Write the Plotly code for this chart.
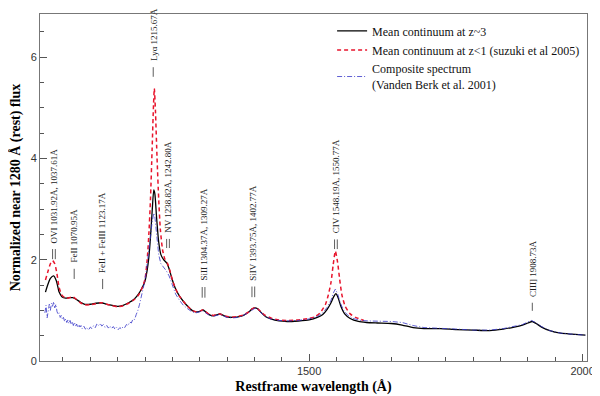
import plotly.graph_objects as go

# mean continuum at z~3 (black)
wl_z3 = [1018, 1022, 1027, 1033, 1038, 1043, 1048, 1055, 1062, 1068, 1074, 1082, 1090, 1100, 1110, 1120,
         1130, 1140, 1150, 1160, 1170, 1180, 1188, 1195, 1200, 1204, 1207, 1210, 1213, 1216, 1218, 1221,
         1225, 1229, 1234, 1240, 1244, 1250, 1256, 1263, 1270, 1278, 1286, 1293, 1300, 1306, 1312, 1318,
         1325, 1331, 1337, 1343, 1350, 1360, 1370, 1380, 1390, 1396, 1401, 1406, 1412, 1420, 1430, 1445,
         1460, 1480, 1500, 1515, 1525, 1533, 1540, 1545, 1549, 1553, 1558, 1565, 1575, 1590, 1605, 1625,
         1650, 1670, 1690, 1710, 1740, 1770, 1800, 1830, 1855, 1875, 1890, 1900, 1908, 1915, 1925, 1940,
         1960, 1980, 2005]
flux_z3 = [1.36, 1.50, 1.63, 1.68, 1.58, 1.36, 1.27, 1.24, 1.25, 1.25, 1.22, 1.16, 1.12, 1.12, 1.14, 1.15,
           1.12, 1.10, 1.08, 1.10, 1.15, 1.22, 1.32, 1.45, 1.58, 1.80, 2.05, 2.45, 2.95, 3.38, 3.30, 2.85,
           2.35, 2.10, 2.00, 1.93, 1.82, 1.60, 1.42, 1.28, 1.18, 1.08, 1.00, 0.97, 0.98, 1.01, 0.96, 0.91,
           0.89, 0.91, 0.93, 0.90, 0.87, 0.86, 0.87, 0.90, 0.97, 1.03, 1.05, 1.03, 0.96, 0.88, 0.83, 0.79,
           0.78, 0.79, 0.81, 0.86, 0.92, 1.02, 1.15, 1.27, 1.33, 1.25, 1.08, 0.93, 0.84, 0.78, 0.76, 0.75,
           0.74, 0.71, 0.66, 0.64, 0.64, 0.62, 0.61, 0.60, 0.63, 0.67, 0.71, 0.75, 0.78, 0.74, 0.67, 0.60,
           0.55, 0.53, 0.51]

# mean continuum at z<1, Suzuki et al 2005 (red dashed)
wl_z1 = [1018, 1022, 1027, 1031, 1035, 1039, 1043, 1048, 1055, 1062, 1068, 1074, 1082, 1090, 1100, 1110,
         1120, 1130, 1140, 1150, 1160, 1170, 1180, 1188, 1195, 1200, 1204, 1207, 1210, 1213, 1215.5, 1217,
         1219, 1222, 1225, 1228, 1232, 1236, 1241, 1245, 1250, 1256, 1263, 1270, 1278, 1286, 1293, 1300,
         1306, 1312, 1318, 1325, 1331, 1337, 1343, 1350, 1360, 1370, 1380, 1390, 1396, 1401, 1406, 1412,
         1420, 1430, 1445, 1460, 1480, 1500, 1510, 1520, 1530, 1535, 1540, 1544, 1548, 1552, 1556, 1560,
         1566, 1575, 1585, 1595, 1600]
flux_z1 = [1.60, 1.75, 1.92, 1.98, 1.92, 1.72, 1.45, 1.30, 1.24, 1.25, 1.27, 1.22, 1.15, 1.11, 1.11, 1.13,
           1.15, 1.12, 1.09, 1.07, 1.09, 1.14, 1.21, 1.30, 1.45, 1.62, 2.00, 2.50, 3.20, 4.20, 5.05, 5.38,
           4.95, 4.00, 3.20, 2.60, 2.20, 2.02, 1.93, 1.80, 1.60, 1.42, 1.28, 1.18, 1.08, 1.00, 0.97, 0.98,
           1.01, 0.96, 0.92, 0.90, 0.92, 0.93, 0.90, 0.88, 0.87, 0.88, 0.91, 0.97, 1.03, 1.05, 1.03, 0.97,
           0.90, 0.85, 0.81, 0.80, 0.81, 0.84, 0.87, 0.95, 1.12, 1.30, 1.55, 1.90, 2.17, 1.95, 1.60, 1.30,
           1.08, 0.93, 0.86, 0.82, 0.80]

# composite spectrum, Vanden Berk et al. 2001 (blue dash-dot)
wl_vb = [1017, 1019, 1021, 1023, 1025, 1027, 1029, 1031, 1033, 1035, 1037, 1039, 1041, 1043, 1045, 1047,
         1049, 1051, 1053, 1055, 1057, 1059, 1061, 1063, 1065, 1067, 1069, 1071, 1073, 1075, 1077, 1079,
         1081, 1083, 1085, 1088, 1091, 1094, 1097, 1100, 1103, 1106, 1109, 1112, 1115, 1118, 1121, 1124,
         1127, 1130, 1133, 1136, 1139, 1142, 1145, 1148, 1151, 1154, 1157, 1160, 1163, 1166, 1169, 1172,
         1175, 1178, 1181, 1184, 1187, 1190, 1194, 1198, 1202, 1206, 1210, 1213, 1216, 1218, 1221, 1225,
         1229, 1234, 1239, 1244, 1250, 1256, 1263, 1270, 1278, 1286, 1293, 1300, 1306, 1312, 1318, 1325,
         1331, 1337, 1343, 1350, 1360, 1370, 1380, 1390, 1396, 1401, 1406, 1412, 1420, 1430, 1445, 1460,
         1480, 1500, 1515, 1525, 1533, 1540, 1545, 1548, 1552, 1557, 1563, 1570, 1580, 1595, 1610, 1630,
         1650, 1670, 1690, 1710, 1740, 1770, 1800, 1830, 1855, 1875, 1890, 1900, 1906, 1912, 1925, 1940,
         1960, 1980, 2005]
flux_vb = [0.95, 1.10, 0.85, 1.05, 1.12, 1.00, 1.14, 1.08, 1.17, 1.05, 1.12, 0.98, 0.92, 0.95, 0.86, 0.90,
           0.82, 0.86, 0.78, 0.83, 0.76, 0.81, 0.74, 0.80, 0.72, 0.78, 0.70, 0.76, 0.69, 0.73, 0.66, 0.72,
           0.67, 0.70, 0.64, 0.69, 0.63, 0.66, 0.61, 0.67, 0.64, 0.70, 0.66, 0.73, 0.70, 0.74, 0.69, 0.72,
           0.66, 0.70, 0.65, 0.69, 0.64, 0.68, 0.63, 0.67, 0.62, 0.66, 0.63, 0.68, 0.66, 0.72, 0.70, 0.77,
           0.75, 0.83, 0.82, 0.92, 1.00, 1.12, 1.30, 1.50, 1.75, 2.05, 2.45, 2.75, 2.92, 2.85, 2.50, 2.10,
           1.92, 1.85, 1.78, 1.68, 1.48, 1.32, 1.20, 1.10, 1.03, 0.97, 0.95, 0.97, 0.99, 0.94, 0.90, 0.88,
           0.90, 0.92, 0.89, 0.86, 0.85, 0.86, 0.90, 0.97, 1.02, 1.04, 1.02, 0.95, 0.88, 0.83, 0.80, 0.79,
           0.80, 0.83, 0.88, 0.95, 1.06, 1.20, 1.36, 1.42, 1.33, 1.15, 1.00, 0.91, 0.84, 0.80, 0.79, 0.79,
           0.78, 0.76, 0.70, 0.66, 0.65, 0.63, 0.61, 0.61, 0.64, 0.68, 0.72, 0.77, 0.80, 0.77, 0.68, 0.60,
           0.55, 0.53, 0.51]

# emission line identifications
line_names = ["OVI 1031.92Å, 1037.61Å", "FeII 1070.95Å", "FeII + FeIII 1123.17Å", "Lyα 1215.67Å",
              "NV 1238.82Å, 1242.80Å", "SiII 1304.37Å, 1309.27Å", "SiIV 1393.75Å, 1402.77Å",
              "CIV 1548.19Å, 1550.77Å", "CIII] 1908.73Å"]
line_wl = [1033.5, 1070.5, 1122.5, 1215.0, 1242.0, 1307.0, 1398.0, 1549.0, 1908.0]
line_doublet = [True, False, False, False, True, True, True, True, False]
mark_lo = [2.01, 1.62, 1.42, 5.61, 2.23, 1.25, 1.26, 2.21, 0.99]
mark_hi = [2.21, 1.82, 1.62, 5.80, 2.41, 1.46, 1.47, 2.40, 1.15]

serif = 'Liberation Serif, Times New Roman, serif'
sans = 'Liberation Sans, Arial, sans-serif'

fig = go.Figure()

fig.add_trace(go.Scatter(x=wl_z3, y=flux_z3, mode='lines', name='Mean continuum at z~3',
                         line=dict(color='black', width=1.3, shape='spline', smoothing=0.6)))
fig.add_trace(go.Scatter(x=wl_z1, y=flux_z1, mode='lines', name='Mean continuum at z<1 (suzuki et al 2005)',
                         line=dict(color='#e8142c', width=1.5, dash='4px,3px', shape='spline', smoothing=0.6)))
fig.add_trace(go.Scatter(x=wl_vb, y=flux_vb, mode='lines',
                         name='Composite spectrum<br>(Vanden Berk et al. 2001)',
                         line=dict(color='#3535c8', width=0.8, dash='5px,2px,1px,2px')))

# line markers and labels
for name, wl, dbl, lo, hi in zip(line_names, line_wl, line_doublet, mark_lo, mark_hi):
    offs = [-2.5, 2.5] if dbl else [0]
    for o in offs:
        fig.add_shape(type='line', x0=wl + o, x1=wl + o, y0=lo, y1=hi, xref='x', yref='y',
                      line=dict(color='#333333', width=0.8))
    fig.add_annotation(x=wl, y=hi + 0.08, xref='x', yref='y', text=name, textangle=-90, showarrow=False,
                       xanchor='center', yanchor='bottom', font=dict(family=serif, size=9, color='#222222'))

# the page body has an 8px margin, so the figure is sized to the visible part of the window
fig.update_layout(
    width=592, height=388,
    margin=dict(l=32, r=8, t=5, b=35),
    paper_bgcolor='white', plot_bgcolor='white',
    showlegend=True,
    legend=dict(x=0.534, y=0.993, xanchor='left', yanchor='top', bgcolor='rgba(0,0,0,0)',
                font=dict(family=serif, size=12, color='#111111')),
    xaxis=dict(range=[1008, 2008], tickvals=[1500, 2000], ticks='inside', ticklen=7, tickcolor='#555555',
               showline=True, linecolor='#777777', linewidth=1, mirror=True, showgrid=False, zeroline=False,
               minor=dict(dtick=50, ticks='inside', ticklen=4, tickcolor='#555555'),
               tickfont=dict(family=sans, size=11, color='#333333'),
               title=dict(text='<b>Restframe wavelength (Å)</b>', standoff=4,
                          font=dict(family=serif, size=14, color='black'))),
    yaxis=dict(range=[0, 6.85], tickvals=[0, 2, 4, 6], ticks='inside', ticklen=7, tickcolor='#555555',
               showline=True, linecolor='#777777', linewidth=1, mirror=True, showgrid=False, zeroline=False,
               minor=dict(dtick=0.5, ticks='inside', ticklen=4, tickcolor='#555555'),
               tickfont=dict(family=sans, size=11, color='#333333'),
               title=dict(text='<b>Normalized near 1280 Å (rest) flux</b>', standoff=6,
                          font=dict(family=serif, size=14, color='black'))),
)

fig.write_html("out.html")
